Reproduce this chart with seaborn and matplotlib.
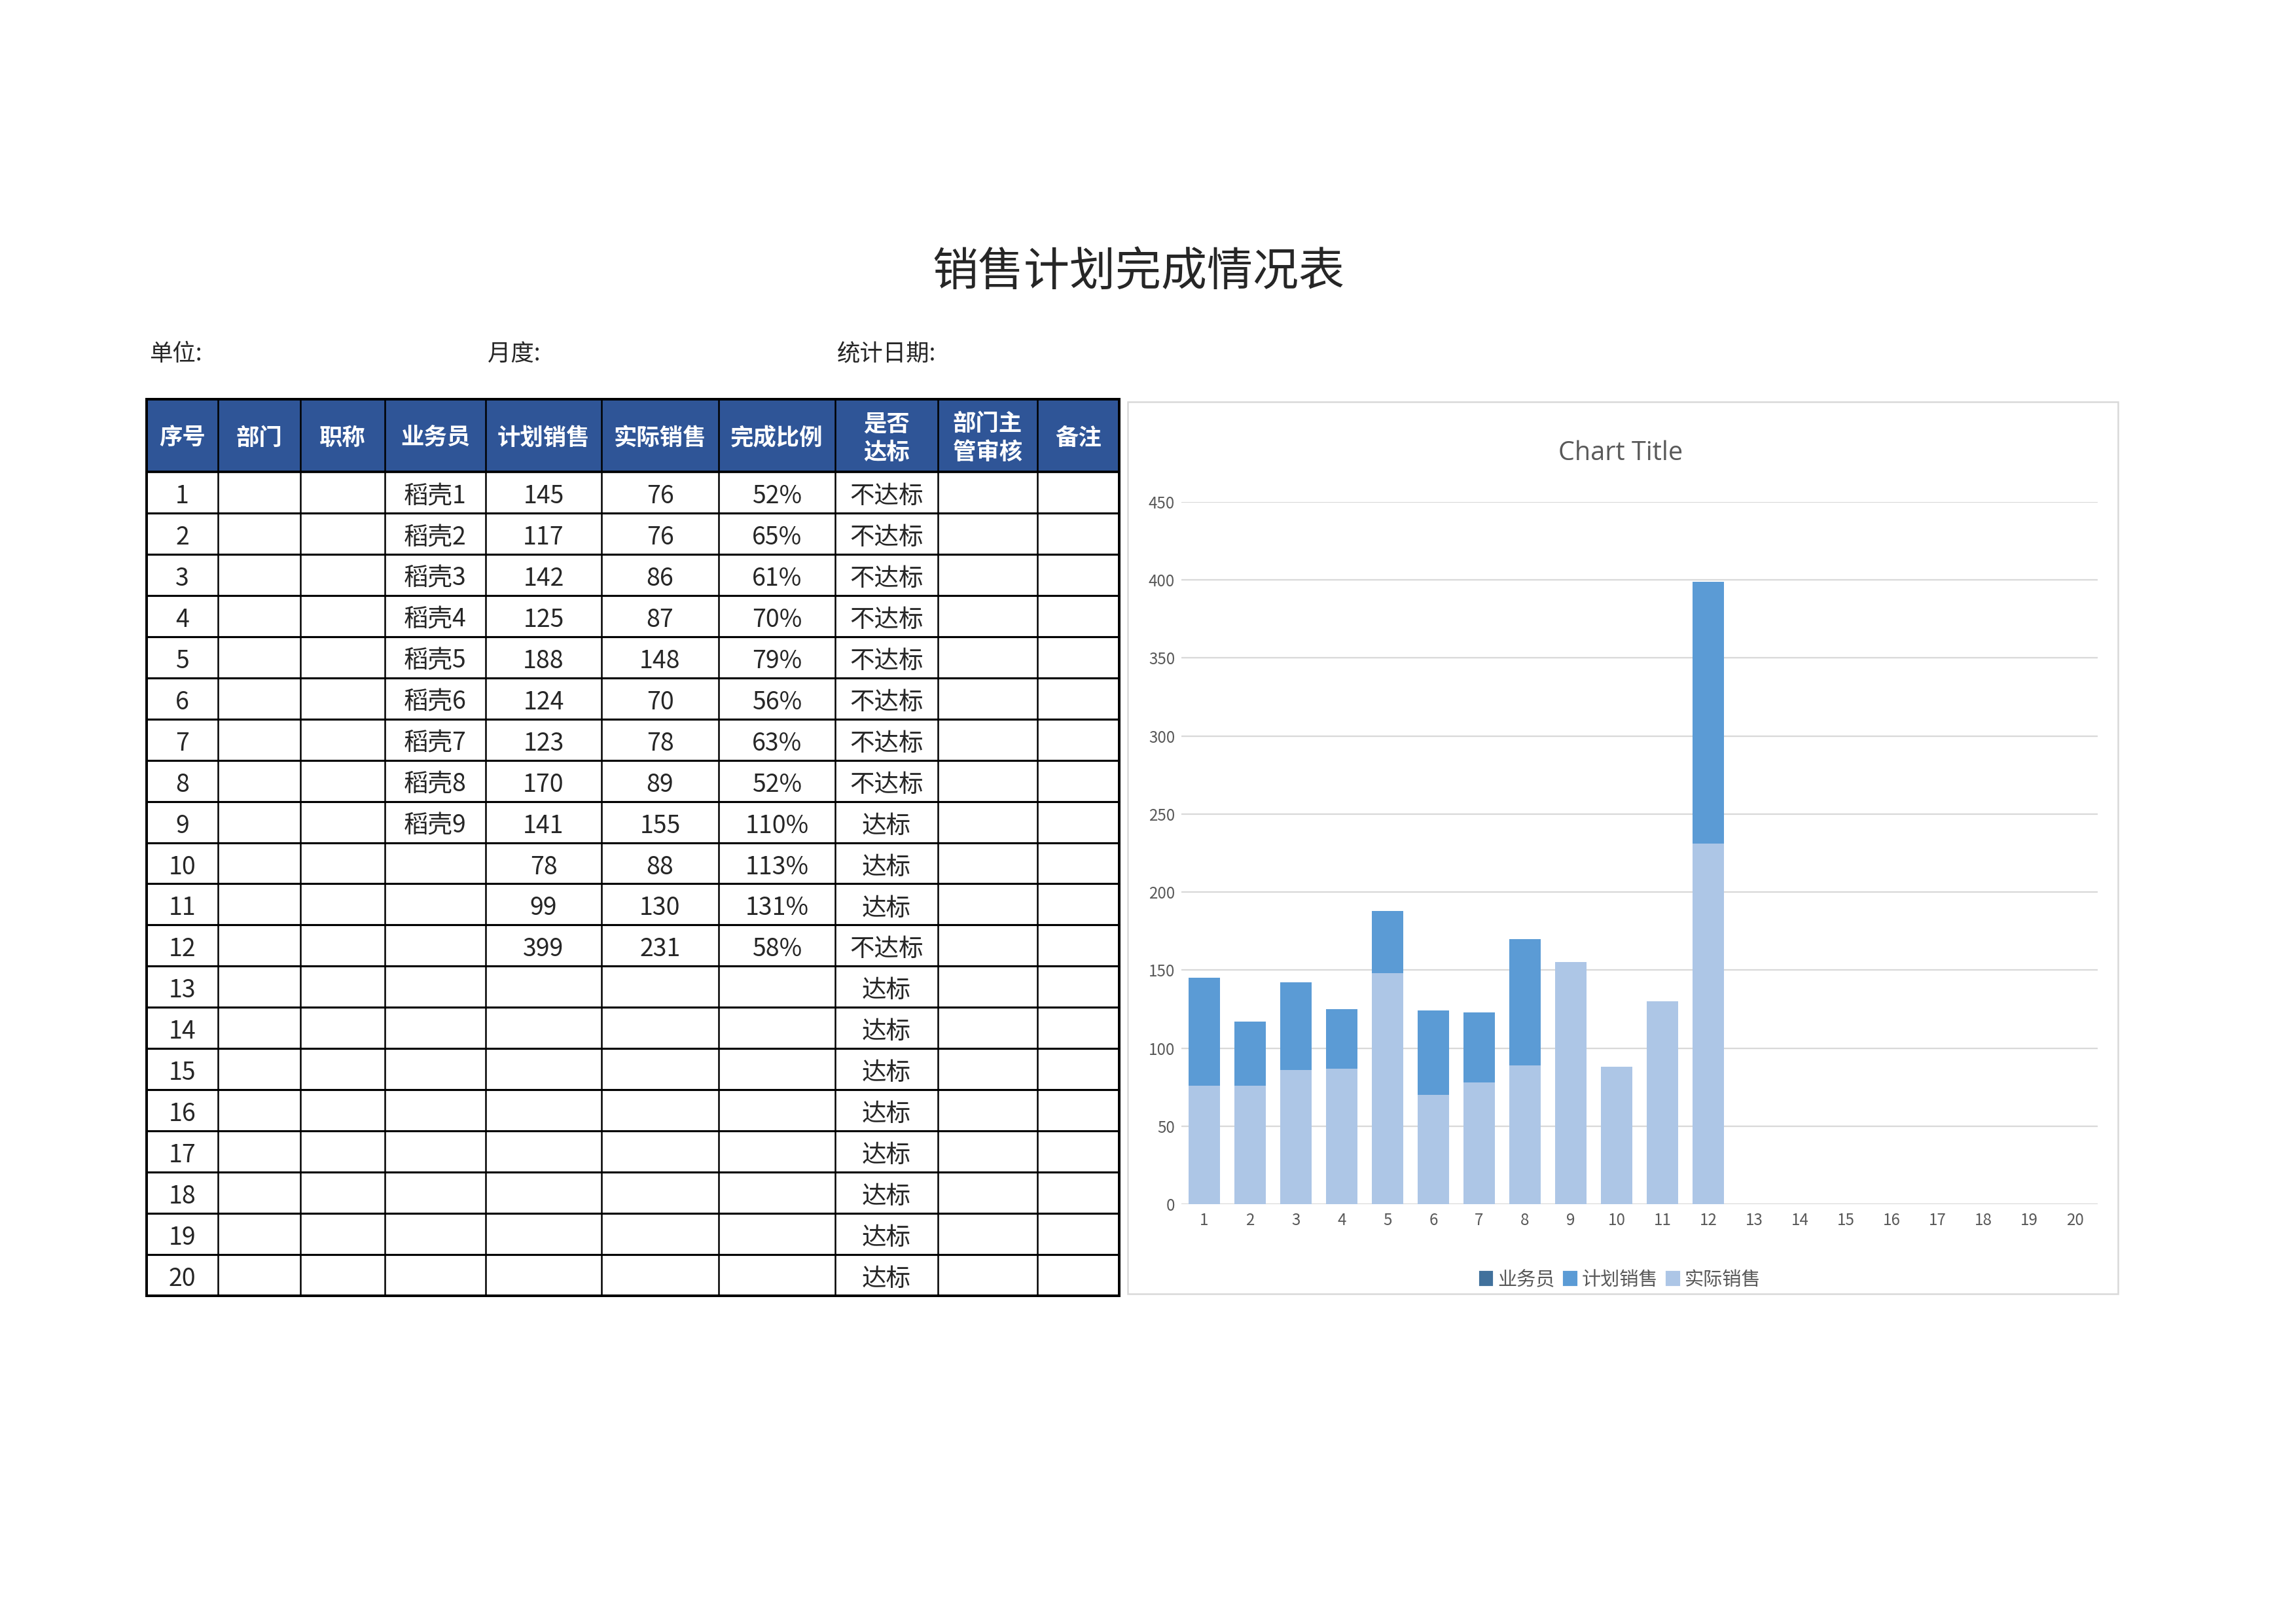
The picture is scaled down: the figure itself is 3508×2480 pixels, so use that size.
import numpy as np
import pandas as pd
import matplotlib.pyplot as plt
from matplotlib.patches import Rectangle, Patch
import seaborn as sns

seq = [str(i) for i in range(1, 21)]
salesman = ['稻壳1', '稻壳2', '稻壳3', '稻壳4', '稻壳5', '稻壳6', '稻壳7', '稻壳8', '稻壳9'] + [''] * 11
plan = [145, 117, 142, 125, 188, 124, 123, 170, 141, 78, 99, 399] + [np.nan] * 8
actual = [76, 76, 86, 87, 148, 70, 78, 89, 155, 88, 130, 231] + [np.nan] * 8
status = ['不达标'] * 8 + ['达标'] * 3 + ['不达标'] + ['达标'] * 8
headers = ['序号', '部门', '职称', '业务员', '计划销售', '实际销售', '完成比例', '是否\n达标', '部门主\n管审核', '备注']
yticks = [0, 50, 100, 150, 200, 250, 300, 350, 400, 450]

ratio = []
for p, a in zip(plan, actual):
    ratio.append('' if np.isnan(p) else f'{a / p:.0%}')

df = pd.DataFrame({'序号': seq, '计划销售': plan, '实际销售': actual})

sns.set_style('white')
plt.rcParams['font.family'] = ['Noto Sans CJK SC', 'DejaVu Sans']

W, H = 3508, 2480
fig = plt.figure(figsize=(W / 300, H / 300), dpi=300)

# page-level axes in pixel units for the sheet part
ax0 = fig.add_axes([0, 0, 1, 1])
ax0.set_xlim(0, W)
ax0.set_ylim(H, 0)
ax0.axis('off')

ax0.text(1739, 416, '销售计划完成情况表', ha='center', va='center', fontsize=16.8)
ax0.text(228, 541, '单位:', ha='left', va='center', fontsize=8.5)
ax0.text(745, 541, '月度:', ha='left', va='center', fontsize=8.5)
ax0.text(1279, 541, '统计日期:', ha='left', va='center', fontsize=8.5)

# table
cols = [224, 333, 459, 588, 742, 919, 1098, 1276, 1433, 1585, 1710]
top, head_bot, bot = 610, 721, 1980
rh = (bot - head_bot) / 20

ax0.add_patch(Rectangle((cols[0], top), cols[-1] - cols[0], head_bot - top,
                        facecolor='#2F5597', edgecolor='none'))
for i, h in enumerate(headers):
    cx = (cols[i] + cols[i + 1]) / 2
    ax0.text(cx, (top + head_bot) / 2 + 4, h, ha='center', va='center', color='white',
             fontsize=8.5, fontweight='bold', linespacing=1.3)

for r in range(20):
    cy = head_bot + rh * (r + 0.5) + 6
    row = [seq[r], '', '', salesman[r],
           '' if np.isnan(plan[r]) else f'{plan[r]:.0f}',
           '' if np.isnan(actual[r]) else f'{actual[r]:.0f}',
           ratio[r], status[r], '', '']
    for i, v in enumerate(row):
        if v:
            ax0.text((cols[i] + cols[i + 1]) / 2, cy, v, ha='center', va='center', fontsize=9)

for x in cols[1:-1]:
    ax0.plot([x, x], [top, bot], color='black', lw=0.6)
for r in range(1, 20):
    y = head_bot + rh * r
    ax0.plot([cols[0], cols[-1]], [y, y], color='black', lw=0.75)
ax0.plot([cols[0], cols[-1]], [head_bot, head_bot], color='black', lw=0.9)
ax0.add_patch(Rectangle((cols[0], top), cols[-1] - cols[0], bot - top,
                        facecolor='none', edgecolor='black', lw=0.95))

# chart frame
ax0.add_patch(Rectangle((1723, 614), 3236 - 1723, 1977 - 614,
                        facecolor='none', edgecolor='#D9D9D9', lw=0.6))

# chart
x0, x1 = 1805, 3205
y0, y1 = 1840, 767
ax = fig.add_axes([x0 / W, 1 - y0 / H, (x1 - x0) / W, (y0 - y1) / H])
sns.barplot(data=df, x='序号', y='计划销售', order=seq, color='#5B9BD5',
            saturation=1, width=0.686, errorbar=None, linewidth=0, ax=ax)
sns.barplot(data=df, x='序号', y='实际销售', order=seq, color='#ADC6E6',
            saturation=1, width=0.686, errorbar=None, linewidth=0, ax=ax)
ax.set_xlim(-0.5, 19.5)
ax.set_ylim(0, 450)
ax.set_yticks(yticks)
ax.set_xlabel('')
ax.set_ylabel('')
for s in ax.spines.values():
    s.set_visible(False)
ax.set_axisbelow(True)
ax.yaxis.grid(True, color='#D9D9D9', lw=0.55)
ax.tick_params(length=0, labelsize=5.8, labelcolor='#595959')
ax.tick_params(axis='y', pad=2.4)
ax.tick_params(axis='x', pad=2.8)

fig.text(2476 / W, 1 - 693 / H, 'Chart Title', ha='center', va='center',
         fontsize=9.5, color='#595959', family=['Open Sans', 'Noto Sans CJK SC'])

handles = [Patch(color='#41719C', label='业务员'),
           Patch(color='#5B9BD5', label='计划销售'),
           Patch(color='#ADC6E6', label='实际销售')]
leg = fig.legend(handles=handles, loc='center', bbox_to_anchor=(2476 / W, 1 - 1956 / H),
                 ncol=3, frameon=False, fontsize=7, handlelength=0.6, handleheight=0.6,
                 handletextpad=0.3, columnspacing=0.5)
for t in leg.get_texts():
    t.set_color('#595959')

fig.savefig('out.png', dpi=300, facecolor='white')
